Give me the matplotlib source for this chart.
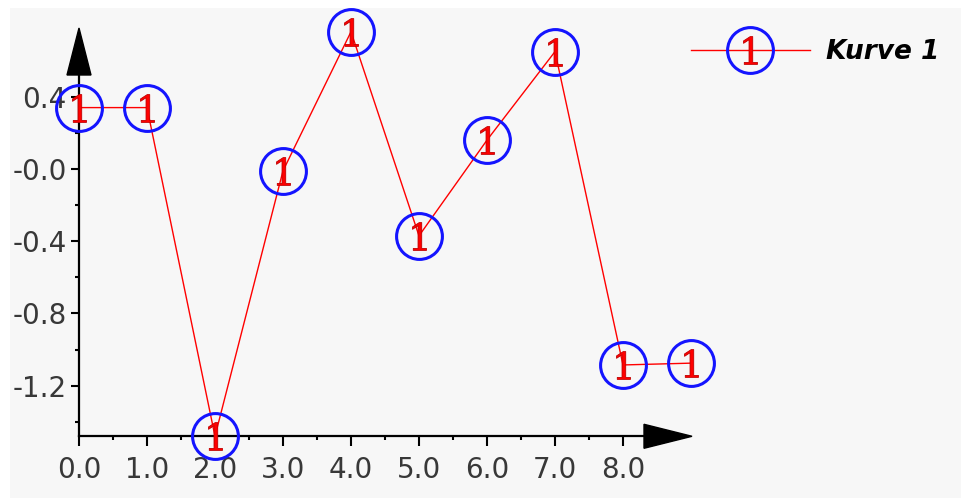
import numpy as np
import matplotlib
matplotlib.use("Agg")
import matplotlib.pyplot as plt
from matplotlib.patches import Polygon
from matplotlib.legend_handler import HandlerTuple
from matplotlib.textpath import TextPath
from matplotlib.font_manager import FontProperties
from matplotlib.path import Path

# data
x_vals = [0, 1, 2, 3, 4, 5, 6, 7, 8, 9]
y_vals = [0.34, 0.34, -1.48, -0.01, 0.76, -0.37, 0.16, 0.65, -1.085, -1.075]
series_name = "Kurve 1"

x_major = [0, 1, 2, 3, 4, 5, 6, 7, 8]
x_labels = ["0.0", "1.0", "2.0", "3.0", "4.0", "5.0", "6.0", "7.0", "8.0"]
x_minor = [0.5, 1.5, 2.5, 3.5, 4.5, 5.5, 6.5, 7.5]
y_major = [0.4, 0.0, -0.4, -0.8, -1.2]
y_labels = ["0.4", "-0.0", "-0.4", "-0.8", "-1.2"]
y_minor = [0.2, -0.2, -0.6, -1.0, -1.4]

W, H = 961, 498
fig = plt.figure(figsize=(W/100, H/100), dpi=100, facecolor='white')

# pixel layout of the plotting area
left_px, top_px = 10, 8
x0_px, xscale = 79, 68.0      # px of x=0, px per unit
y0_px, yscale = 169, 180.6    # px of y=0 (from top), px per unit

ax = fig.add_axes([left_px/W, 0, (W-left_px)/W, (H-top_px)/H])
ax.set_facecolor('#f7f7f7')
ax.set_xlim((left_px - x0_px)/xscale, (W - x0_px)/xscale)
ax.set_ylim((y0_px - H)/yscale, (y0_px - top_px)/yscale)

ymin = min(y_vals)
xmin = min(x_vals)

# axes lines + arrows
x_arrow_base = (644 - x0_px)/xscale
x_arrow_tip = (692 - x0_px)/xscale
y_arrow_base = (y0_px - 75)/yscale
y_arrow_tip = (y0_px - 28)/yscale
hh = 12/yscale
hw = 12/xscale

for s in ['top', 'right']:
    ax.spines[s].set_visible(False)
ax.spines['left'].set_position(('data', xmin))
ax.spines['left'].set_bounds(ymin, y_arrow_base)
ax.spines['bottom'].set_position(('data', ymin))
ax.spines['bottom'].set_bounds(xmin, x_arrow_base)
for s in ['left', 'bottom']:
    ax.spines[s].set_linewidth(1.6)
    ax.spines[s].set_color('black')

ax.add_patch(Polygon([(x_arrow_base, ymin - hh), (x_arrow_tip, ymin), (x_arrow_base, ymin + hh)],
                     closed=True, color='black', clip_on=False, zorder=3))
ax.add_patch(Polygon([(xmin - hw, y_arrow_base), (xmin, y_arrow_tip), (xmin + hw, y_arrow_base)],
                     closed=True, color='black', clip_on=False, zorder=3))

ax.set_xticks(x_major)
ax.set_xticklabels(x_labels)
ax.set_xticks(x_minor, minor=True)
ax.set_yticks(y_major)
ax.set_yticklabels(y_labels)
ax.set_yticks(y_minor, minor=True)

ax.tick_params(axis='both', which='major', direction='out', width=1.5, color='black',
               labelsize=20, labelcolor='#383838')
ax.tick_params(axis='x', which='major', length=7, pad=7)
ax.tick_params(axis='y', which='major', length=6, pad=3)
ax.tick_params(axis='both', which='minor', direction='out', length=3, width=1.5, color='black')

# "1" glyph as a marker, centred on its ink box
tp = TextPath((0, 0), "1", prop=FontProperties(family='DejaVu Serif'))
ext = tp.get_extents()
one_marker = Path(tp.vertices - [(ext.x0 + ext.x1)/2, (ext.y0 + ext.y1)/2], tp.codes)

# the curve
l1, = ax.plot(x_vals, y_vals, color='red', lw=1.0, marker='o', markersize=33,
              markerfacecolor='none', markeredgecolor='#1414ff', markeredgewidth=2.2,
              clip_on=False, zorder=4)
l2, = ax.plot(x_vals, y_vals, ls='none', marker=one_marker, markersize=20,
              color='red', markeredgecolor='#c00000', markeredgewidth=0.6,
              clip_on=False, zorder=5)

leg = fig.legend([(l1, l2)], [series_name], handler_map={tuple: HandlerTuple(ndivide=1)},
                 loc='center left', bbox_to_anchor=(691/W, 1 - 52/H), frameon=False,
                 borderpad=0, borderaxespad=0, handlelength=4.5, handletextpad=0.6,
                 numpoints=1, prop={'size': 19, 'weight': 'bold', 'style': 'italic'})

fig.savefig('out.png', dpi=100, facecolor='white')
